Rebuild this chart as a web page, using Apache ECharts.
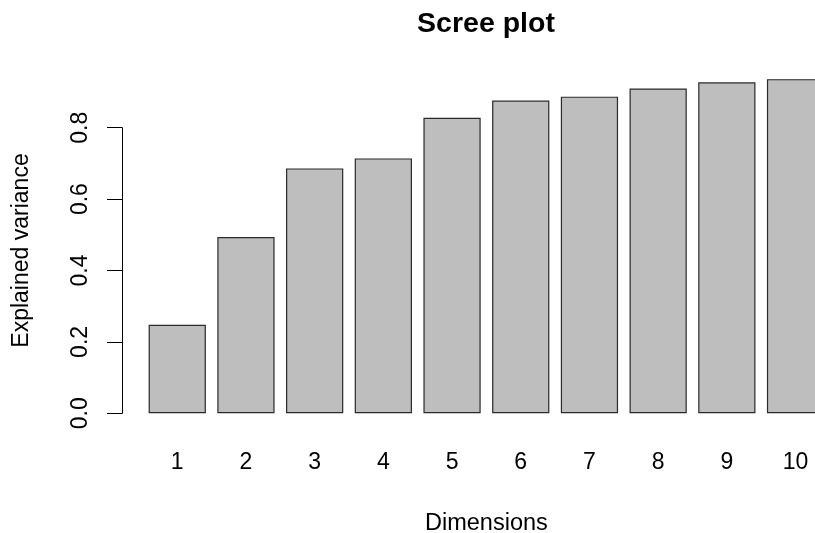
<!DOCTYPE html>
<html>
<head>
<meta charset="utf-8">
<script src="https://cdn.jsdelivr.net/npm/echarts@6/dist/echarts.min.js"></script>
<style>
html,body{margin:0;padding:0;background:#fff;}
#chart{width:815px;height:533px;}
</style>
</head>
<body>
<div id="chart"></div>
<script>
var dimensions = ['1','2','3','4','5','6','7','8','9','10'];
var explainedVariance = [0.248, 0.494, 0.686, 0.714, 0.828, 0.876, 0.887, 0.910, 0.927, 0.936];
var yTicks = [0, 0.2, 0.4, 0.6, 0.8];

var FONT = 'Liberation Sans, Arial, Helvetica, sans-serif';
var chart = echarts.init(document.getElementById('chart'), null, {renderer: 'canvas'});
chart.setOption({
  backgroundColor: '#ffffff',
  animation: false,
  title: {
    text: 'Scree plot',
    left: 486,
    textAlign: 'center',
    top: 9.5,
    padding: 0,
    textStyle: {fontFamily: FONT, fontWeight: 'bold', fontSize: 28.5, color: '#000'}
  },
  grid: {left: 142.9, top: 127.7, width: 687, height: 285.6, containLabel: false, outerBoundsMode: 'none'},
  xAxis: {
    type: 'category',
    data: dimensions,
    axisLine: {show: false},
    axisTick: {show: false},
    axisLabel: {fontFamily: FONT, fontSize: 23, color: '#000', margin: 37.5},
    name: 'Dimensions',
    nameLocation: 'middle',
    nameGap: 98,
    nameTextStyle: {fontFamily: FONT, fontSize: 23.5, color: '#000'},
    splitLine: {show: false}
  },
  yAxis: {
    type: 'value',
    min: yTicks[0],
    max: yTicks[yTicks.length - 1],
    interval: 0.2,
    offset: 20.9,
    axisLine: {show: true, lineStyle: {color: '#000', width: 1}},
    axisTick: {show: true, length: 15, lineStyle: {color: '#000', width: 1}},
    axisLabel: {
      rotate: 90, fontFamily: FONT, fontSize: 23, color: '#000', margin: 30,
      formatter: function (v) { return v.toFixed(1); }
    },
    splitLine: {show: false}
  },
  graphic: [{
    type: 'text',
    x: 21.7, y: 250.5,
    rotation: Math.PI / 2,
    style: {
      text: 'Explained variance', fontFamily: FONT, fontSize: 23, fill: '#000',
      textAlign: 'center', textVerticalAlign: 'middle'
    }
  }],
  series: [{
    type: 'bar',
    data: explainedVariance,
    barWidth: '83.33%',
    clip: false,
    itemStyle: {color: '#BEBEBE', borderColor: '#2a2a2a', borderWidth: 1.2}
  }]
});
</script>
</body>
</html>
